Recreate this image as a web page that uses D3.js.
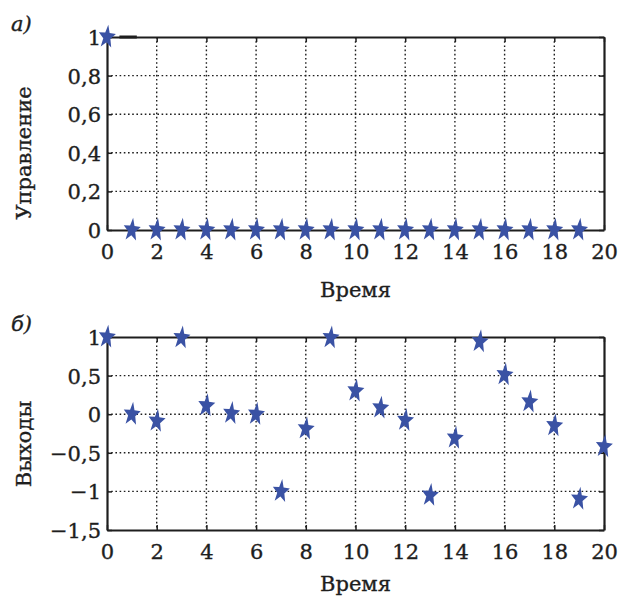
<!DOCTYPE html>
<html>
<head>
<meta charset="utf-8">
<script src="https://cdn.jsdelivr.net/npm/d3@7"></script>
<style>
  body { margin: 0; background: #fff; }
  text { font-family: "DejaVu Serif", serif; fill: #1e1e1e; stroke: #1e1e1e; stroke-width: 0.35px; }
</style>
</head>
<body>
<svg id="chart" width="621" height="599"></svg>
<script>
// data
const timeU = d3.range(0, 20);
const control = [1, 0, 0, 0, 0, 0, 0, 0, 0, 0, 0, 0, 0, 0, 0, 0, 0, 0, 0, 0];
const timeY = d3.range(0, 21);
const outputs = [1.0, 0.0, -0.09, 0.99, 0.11, 0.01, 0.0, -1.0, -0.19, 0.99, 0.30, 0.08, -0.08,
  -1.05, -0.31, 0.94, 0.51, 0.16, -0.15, -1.10, -0.42];
const xTicks = [0, 2, 4, 6, 8, 10, 12, 14, 16, 18, 20];
const yTicksU = [0, 0.2, 0.4, 0.6, 0.8, 1];
const yTicksY = [-1.5, -1, -0.5, 0, 0.5, 1];

const svg = d3.select('#chart');
const starColor = '#3a52a4';
const fmt = v => (v === 0 ? '0' : (v < 0 ? '\u2212' : '') + String(Math.abs(v)).replace('.', ','));

// star path, pointing up
function starPath(r) {
  const pts = [];
  for (let i = 0; i < 10; i++) {
    const a = -Math.PI / 2 + i * Math.PI / 5;
    const rr = i % 2 === 0 ? r : r * 0.42;
    pts.push([rr * Math.cos(a), rr * Math.sin(a)]);
  }
  return 'M' + pts.map(p => p.join(',')).join('L') + 'Z';
}
const star = starPath(11.5);

function panel(opts) {
  const { top, bottom, left, right, xs, ys, yDomain, yTicks, letter, yLabel, yLabelY, xLabelY } = opts;
  const x = d3.scaleLinear().domain([0, 20]).range([left, right]);
  const y = d3.scaleLinear().domain(yDomain).range([bottom, top]);
  const g = svg.append('g');

  // grid
  g.selectAll('.gx').data(xTicks.slice(1, -1)).enter().append('line')
    .attr('x1', d => x(d)).attr('x2', d => x(d))
    .attr('y1', top).attr('y2', bottom)
    .attr('stroke', '#1e1e1e').attr('stroke-width', 1.4).attr('stroke-dasharray', '1.6,2.6');
  g.selectAll('.gy').data(yTicks.slice(1, -1)).enter().append('line')
    .attr('x1', left).attr('x2', right)
    .attr('y1', d => y(d)).attr('y2', d => y(d))
    .attr('stroke', '#1e1e1e').attr('stroke-width', 1.4).attr('stroke-dasharray', '1.6,2.6');

  // axes with inward ticks
  const axB = g.append('g').attr('transform', `translate(0,${bottom})`)
    .call(d3.axisBottom(x).tickValues(xTicks).tickSizeInner(-5).tickSizeOuter(0).tickPadding(14).tickFormat(fmt));
  const axL = g.append('g').attr('transform', `translate(${left},0)`)
    .call(d3.axisLeft(y).tickValues(yTicks).tickSizeInner(-5).tickSizeOuter(0).tickPadding(12).tickFormat(fmt));
  const axT = g.append('g').attr('transform', `translate(0,${top})`)
    .call(d3.axisTop(x).tickValues(xTicks).tickSizeInner(-5).tickSizeOuter(0).tickFormat(''));
  const axR = g.append('g').attr('transform', `translate(${right},0)`)
    .call(d3.axisRight(y).tickValues(yTicks).tickSizeInner(-5).tickSizeOuter(0).tickFormat(''));
  [axB, axL, axT, axR].forEach(a => {
    a.select('.domain').attr('stroke', '#1e1e1e').attr('stroke-width', 2.2);
    a.selectAll('.tick line').attr('stroke', '#1e1e1e').attr('stroke-width', 1.5);
    a.selectAll('text').attr('font-size', 21).attr('font-family', '"DejaVu Serif", serif').attr('fill', '#1e1e1e');
  });
  axB.selectAll('text').attr('dy', '0.71em');
  axL.selectAll('text').attr('dy', '0.36em').attr('x', -6);

  // markers
  g.selectAll('.star').data(xs).enter().append('path')
    .attr('d', star)
    .attr('transform', (d, i) => `translate(${x(d)},${y(ys[i])}) rotate(6) scale(0.78,1.08)`)
    .attr('fill', starColor);

  // labels
  g.append('text').attr('x', 11).attr('y', top - 6)
    .attr('font-size', 21).attr('font-style', 'italic').text(letter);
  g.append('text')
    .attr('transform', `translate(31,${yLabelY}) rotate(-90)`)
    .attr('text-anchor', 'middle').attr('font-size', 21).text(yLabel);
  g.append('text').attr('x', (left + right) / 2).attr('y', xLabelY)
    .attr('text-anchor', 'middle').attr('font-size', 21).text('Время');
  return { g, x, y };
}

const a = panel({ top: 37, bottom: 230, left: 107, right: 604, xs: timeU, ys: control,
  yDomain: [0, 1], yTicks: yTicksU, letter: 'а)', yLabel: 'Управление', yLabelY: 153, xLabelY: 297 });
// short heavy segment next to the first marker in panel а)
a.g.append('line')
  .attr('x1', a.x(0.5)).attr('x2', a.x(1.2))
  .attr('y1', a.y(1)).attr('y2', a.y(1))
  .attr('stroke', '#1e1e1e').attr('stroke-width', 3);
panel({ top: 337, bottom: 530, left: 107, right: 604, xs: timeY, ys: outputs,
  yDomain: [-1.5, 1], yTicks: yTicksY, letter: 'б)', yLabel: 'Выходы', yLabelY: 444, xLabelY: 591 });
</script>
</body>
</html>
